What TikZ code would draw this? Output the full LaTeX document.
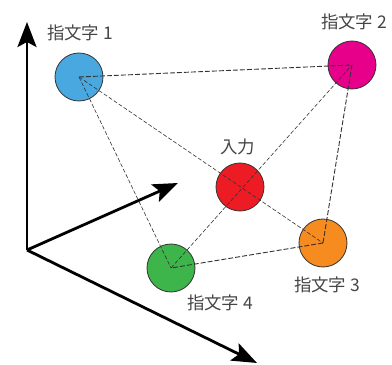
\documentclass[tikz,border=0pt]{standalone}
\usepackage{fontspec}
\setmainfont{Noto Sans CJK JP}
\usetikzlibrary{arrows.meta}
\definecolor{cblue}{HTML}{4AA8E0}
\definecolor{cmag}{HTML}{E6008A}
\definecolor{cred}{HTML}{ED1C24}
\definecolor{corange}{HTML}{F68B1F}
\definecolor{cgreen}{HTML}{3DB54A}
\definecolor{ctext}{HTML}{454545}
\begin{document}
\begin{tikzpicture}[x=1bp,y=1bp,
  ball/.style={circle, draw=black!80, line width=0.8bp, minimum size=48bp, inner sep=0pt},
  lbl/.style={text=ctext, font=\fontsize{17.5}{20}\selectfont, inner sep=0pt},
  quad/.style={draw=black!80, line width=0.9bp, dash pattern=on 5bp off 2bp},
  diag/.style={draw=black!80, line width=0.6bp, dash pattern=on 4bp off 2bp},
  axis/.style={line width=2.8bp, -{Stealth[length=25bp,width=19bp,inset=5bp]}}]
\useasboundingbox (0,0) rectangle (392,365);
\coordinate (O) at (27,115);
\coordinate (ty) at (27,343);
\coordinate (tx) at (178,182);
\coordinate (tz) at (257,2);
\draw[axis] (O) -- (ty);
\draw[axis] (O) -- (tx);
\draw[axis] (O) -- (tz);
\node[ball, fill=cblue] (c1) at (79,288) {};
\node[ball, fill=cmag] (c2) at (352,300) {};
\node[ball, fill=cred] (in) at (240,178) {};
\node[ball, fill=corange] (c3) at (323,122) {};
\node[ball, fill=cgreen] (c4) at (171,97) {};
\node[lbl] (l1) at (80,332) {指文字 1};
\node[lbl] (l2) at (354,343) {指文字 2};
\node[lbl] (lin) at (238,218) {入力};
\node[lbl] (l3) at (327,80) {指文字 3};
\node[lbl] (l4) at (220,62) {指文字 4};
\draw[quad] (c1.center) -- (c2.center);
\draw[quad] (c2.center) -- (c3.center);
\draw[quad] (c3.center) -- (c4.center);
\draw[diag] (c1.center) -- (c4.center);
\draw[diag] (c1.center) -- (c3.center);
\draw[diag] (c4.center) -- (c2.center);
\end{tikzpicture}
\end{document}
